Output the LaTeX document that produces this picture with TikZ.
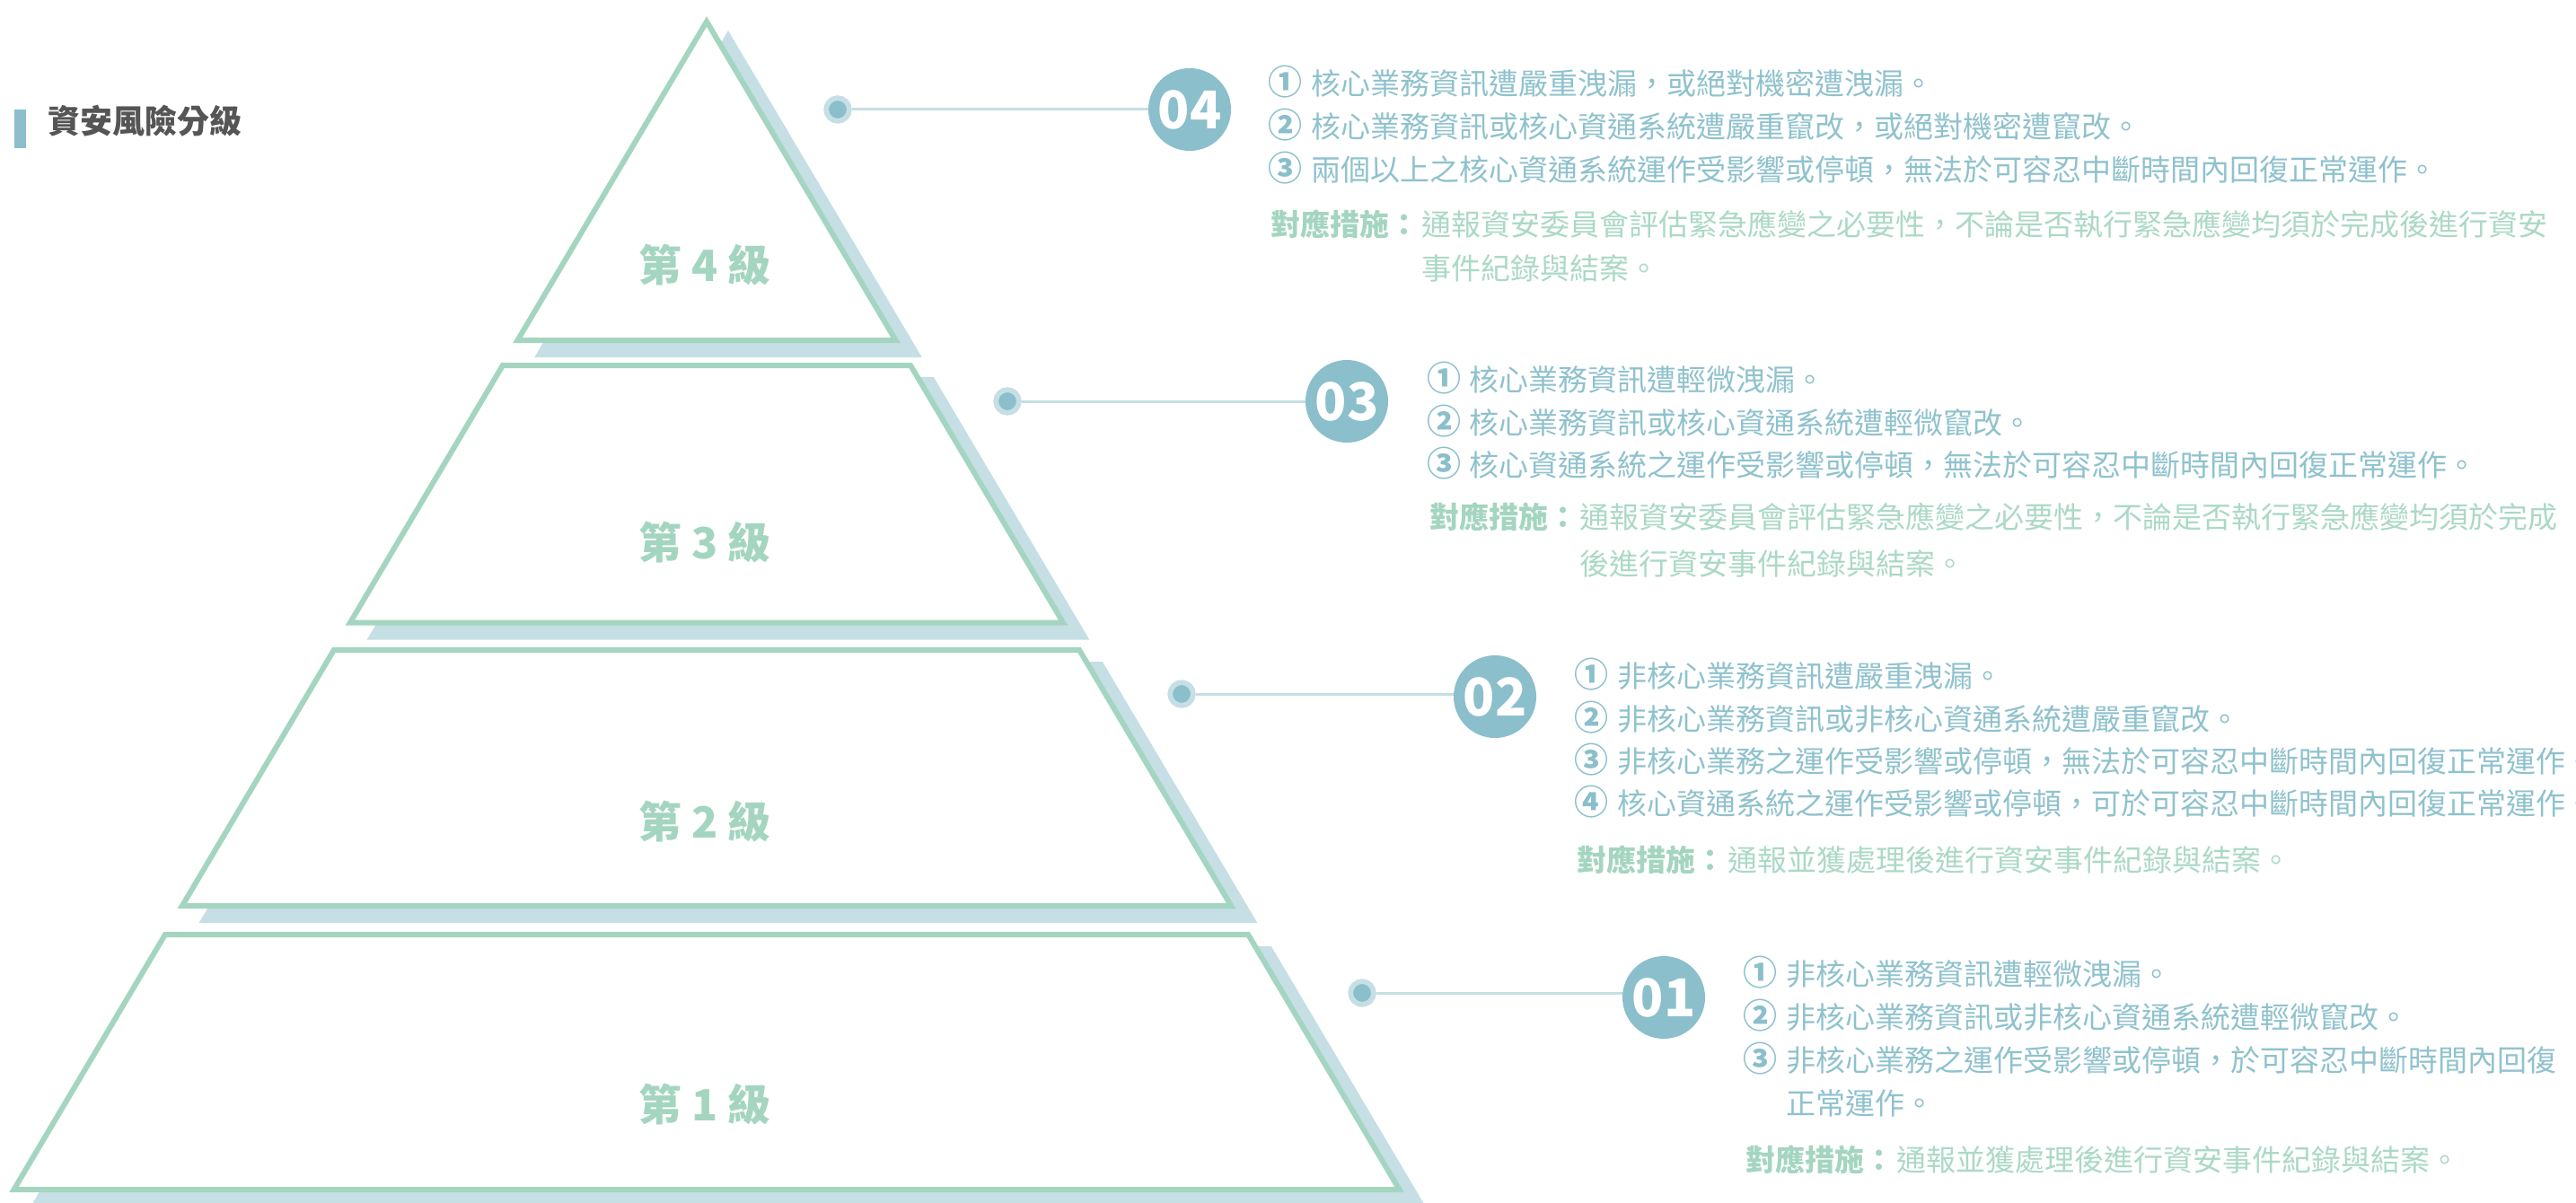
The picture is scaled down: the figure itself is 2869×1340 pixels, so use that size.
\documentclass[tikz,border=0pt]{standalone}
\usepackage{fontspec}
\newfontfamily\cjk{Noto Sans CJK TC}
\definecolor{myteal}{HTML}{8ABFCB}
\definecolor{mygreen}{HTML}{A4D5C1}
\definecolor{myshadow}{HTML}{C5DFE4}
\definecolor{mytitle}{HTML}{555555}
\definecolor{itemtxt}{HTML}{8FC2CD}
\definecolor{acttxt}{HTML}{ABD9C6}
\begin{document}
\begin{tikzpicture}[x=1pt,y=-1pt,
  band/.style={fill=white, draw=mygreen, line width=6pt, line join=miter},
  shadowband/.style={fill=myshadow, draw=myshadow, line width=6pt, line join=miter},
  dotnode/.style={circle, fill=myteal, draw=myshadow, line width=5.7pt, minimum size=25.7pt, inner sep=0pt},
  numcircle/.style={circle, fill=myteal, minimum size=92pt, inner sep=0pt, text=white, font=\cjk\bfseries\fontsize{58}{60}\selectfont},
  conn/.style={draw=myshadow, line width=3pt},
  lvl/.style={text=mygreen, font=\cjk\bfseries\fontsize{48}{52}\selectfont, inner sep=0pt},
  cnum/.style={anchor=center, text=myteal, font=\cjk\bfseries\fontsize{38}{40}\selectfont, inner sep=0pt, text height=0.76em, text depth=0pt},
  item/.style={anchor=west, text=itemtxt, font=\cjk\fontsize{33}{40}\selectfont, inner sep=0pt, text height=0.76em, text depth=0pt},
  actlabel/.style={anchor=west, text=mygreen, font=\cjk\bfseries\fontsize{33}{40}\selectfont, inner sep=0pt, text height=0.76em, text depth=0pt},
  act/.style={anchor=west, text=acttxt, font=\cjk\fontsize{33}{40}\selectfont, inner sep=0pt, text height=0.76em, text depth=0pt},
  titletxt/.style={anchor=west, text=mytitle, font=\cjk\bfseries\fontsize{36}{40}\selectfont, inner sep=0pt, text height=0.76em, text depth=0pt}
]
\useasboundingbox (0,0) rectangle (2869,1340);
\clip (0,0) rectangle (2869,1340);
\fill[white] (0,0) rectangle (2869,1340);

% title
\fill[myteal] (16,122) rectangle (29,165);
\node[titletxt] (title) at (53,145) {資安風險分級};

% pyramid: shadows then bands
\path[shadowband, shift={(24,16)}] (787,24) -- (997.5,379) -- (576.5,379) -- cycle;
\path[band] (787,24) -- (997.5,379) -- (576.5,379) -- cycle;
\path[shadowband, shift={(24,16)}] (559.9,407) -- (1014.1,407) -- (1184,693.5) -- (390,693.5) -- cycle;
\path[band] (559.9,407) -- (1014.1,407) -- (1184,693.5) -- (390,693.5) -- cycle;
\path[shadowband, shift={(24,16)}] (371.9,724) -- (1202.1,724) -- (1371.1,1009) -- (202.9,1009) -- cycle;
\path[band] (371.9,724) -- (1202.1,724) -- (1371.1,1009) -- (202.9,1009) -- cycle;
\path[shadowband, shift={(24,16)}] (183.9,1041) -- (1390.1,1041) -- (1558.5,1325) -- (15.5,1325) -- cycle;
\path[band] (183.9,1041) -- (1390.1,1041) -- (1558.5,1325) -- (15.5,1325) -- cycle;

\node[lvl] (l4) at (785,295) {第 4 級};
\node[lvl] (l3) at (785,604) {第 3 級};
\node[lvl] (l2) at (785,915) {第 2 級};
\node[lvl] (l1) at (785,1230) {第 1 級};

% connectors
\node[dotnode] (d4) at (933,122) {};
\node[dotnode] (d3) at (1122,447) {};
\node[dotnode] (d2) at (1316,773) {};
\node[dotnode] (d1) at (1517,1106) {};
\coordinate (e4) at (1300,122);
\coordinate (e3) at (1475,447);
\coordinate (e2) at (1640,773);
\coordinate (e1) at (1830,1106);
\draw[conn] (d4) -- (e4);
\draw[conn] (d3) -- (e3);
\draw[conn] (d2) -- (e2);
\draw[conn] (d1) -- (e1);
\node[numcircle] (c4) at (1325,122) {04};
\node[numcircle] (c3) at (1500,447) {03};
\node[numcircle] (c2) at (1665,776) {02};
\node[numcircle] (c1) at (1853,1111) {01};

% level 4 text
\node[cnum] (n4a) at (1431,102) {①};
\node[item] (t4a) at (1460,102) {核心業務資訊遭嚴重洩漏，或絕對機密遭洩漏。};
\node[cnum] (n4b) at (1431,150) {②};
\node[item] (t4b) at (1460,150) {核心業務資訊或核心資通系統遭嚴重竄改，或絕對機密遭竄改。};
\node[cnum] (n4c) at (1431,198) {③};
\node[item] (t4c) at (1460,198) {兩個以上之核心資通系統運作受影響或停頓，無法於可容忍中斷時間內回復正常運作。};
\node[actlabel] (a4) at (1415,259) {對應措施：};
\node[act] (a4a) at (1583,259) {通報資安委員會評估緊急應變之必要性，不論是否執行緊急應變均須於完成後進行資安};
\node[act] (a4b) at (1583,308) {事件紀錄與結案。};

% level 3 text
\node[cnum] (n3a) at (1608,432) {①};
\node[item] (t3a) at (1636,432) {核心業務資訊遭輕微洩漏。};
\node[cnum] (n3b) at (1608,480) {②};
\node[item] (t3b) at (1636,480) {核心業務資訊或核心資通系統遭輕微竄改。};
\node[cnum] (n3c) at (1608,527) {③};
\node[item] (t3c) at (1636,527) {核心資通系統之運作受影響或停頓，無法於可容忍中斷時間內回復正常運作。};
\node[actlabel] (a3) at (1592,585) {對應措施：};
\node[act] (a3a) at (1759,585) {通報資安委員會評估緊急應變之必要性，不論是否執行緊急應變均須於完成};
\node[act] (a3b) at (1759,637) {後進行資安事件紀錄與結案。};

% level 2 text
\node[cnum] (n2a) at (1772,762) {①};
\node[item] (t2a) at (1801,762) {非核心業務資訊遭嚴重洩漏。};
\node[cnum] (n2b) at (1772,810) {②};
\node[item] (t2b) at (1801,810) {非核心業務資訊或非核心資通系統遭嚴重竄改。};
\node[cnum] (n2c) at (1772,857) {③};
\node[item] (t2c) at (1801,857) {非核心業務之運作受影響或停頓，無法於可容忍中斷時間內回復正常運作。};
\node[cnum] (n2d) at (1772,904) {④};
\node[item] (t2d) at (1801,904) {核心資通系統之運作受影響或停頓，可於可容忍中斷時間內回復正常運作。};
\node[actlabel] (a2) at (1756,967) {對應措施：};
\node[act] (a2a) at (1924,967) {通報並獲處理後進行資安事件紀錄與結案。};

% level 1 text
\node[cnum] (n1a) at (1960,1094) {①};
\node[item] (t1a) at (1989,1094) {非核心業務資訊遭輕微洩漏。};
\node[cnum] (n1b) at (1960,1142) {②};
\node[item] (t1b) at (1989,1142) {非核心業務資訊或非核心資通系統遭輕微竄改。};
\node[cnum] (n1c) at (1960,1190) {③};
\node[item] (t1c) at (1989,1190) {非核心業務之運作受影響或停頓，於可容忍中斷時間內回復};
\node[item] (t1d) at (1989,1238) {正常運作。};
\node[actlabel] (a1) at (1944,1301) {對應措施：};
\node[act] (a1a) at (2112,1301) {通報並獲處理後進行資安事件紀錄與結案。};
\end{tikzpicture}
\end{document}
